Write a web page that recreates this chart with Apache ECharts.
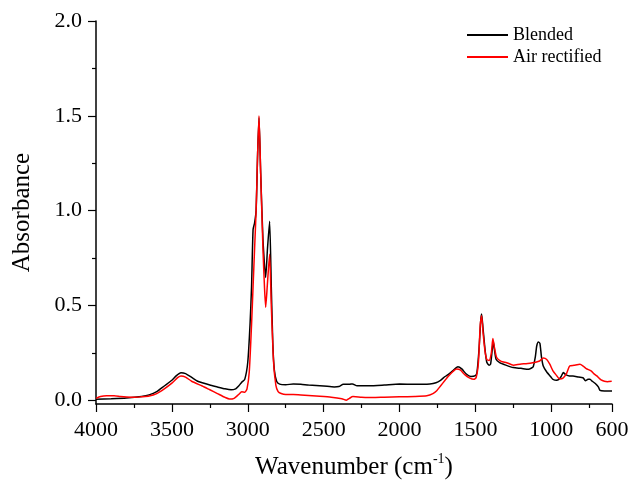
<!DOCTYPE html>
<html>
<head>
<meta charset="utf-8">
<script src="https://cdn.jsdelivr.net/npm/echarts@6/dist/echarts.min.js"></script>
<style>html,body{margin:0;padding:0;background:#fff}#c{width:631px;height:486px}</style>
</head>
<body>
<div id="c"></div>
<script>
var seriesNames = ['Blended', 'Air rectified'];
var xMajorTicks = [4000, 3500, 3000, 2500, 2000, 1500, 1000, 600];
var xMinorTicks = [3750, 3250, 2750, 2250, 1750, 1250, 750];
var yMajorTicks = [0, 0.5, 1.0, 1.5, 2.0];
var yMinorTicks = [0.25, 0.75, 1.25, 1.75];

var blendedX = [4000,3900,3800,3700,3650,3600,3550,3500,3470,3440,3410,3370,3330,3300,3250,3200,3150,3110,3080,3060,3040,3020,3000,2985,2975,2965,2955,2945,2935,2926,2915,2900,2882,2870,2856,2845,2835,2825,2810,2790,2750,2700,2650,2600,2500,2430,2400,2370,2330,2310,2280,2200,2100,2000,1900,1800,1760,1730,1700,1680,1650,1615,1590,1560,1530,1500,1490,1476,1465,1459,1450,1437,1425,1410,1400,1390,1382,1375,1364,1340,1300,1250,1200,1150,1130,1119,1105,1096,1085,1075,1065,1053,1031,1000,989,965,950,935,921,905,880,857,820,800,790,775,758,745,730,710,690,679,650,600];
var blendedY = [0.005,0.008,0.012,0.02,0.028,0.045,0.075,0.105,0.13,0.145,0.14,0.12,0.1,0.092,0.08,0.07,0.06,0.055,0.06,0.075,0.095,0.11,0.2,0.4,0.6,0.9,0.935,1.0,1.3,1.49,1.2,0.85,0.647,0.8,0.944,0.6,0.3,0.16,0.1,0.085,0.082,0.085,0.084,0.08,0.075,0.07,0.072,0.084,0.084,0.086,0.076,0.076,0.08,0.085,0.084,0.086,0.092,0.105,0.125,0.135,0.155,0.177,0.165,0.138,0.125,0.13,0.145,0.27,0.42,0.455,0.38,0.27,0.2,0.185,0.19,0.26,0.31,0.27,0.216,0.198,0.185,0.172,0.168,0.163,0.17,0.177,0.23,0.286,0.307,0.3,0.23,0.18,0.15,0.12,0.11,0.105,0.11,0.125,0.146,0.135,0.128,0.128,0.122,0.12,0.118,0.103,0.11,0.11,0.1,0.088,0.07,0.052,0.049,0.049];

var airX = [4000,3970,3930,3880,3840,3800,3750,3700,3650,3600,3550,3500,3460,3440,3410,3370,3300,3250,3200,3150,3120,3090,3060,3040,3020,3005,2990,2975,2965,2955,2945,2935,2926,2915,2900,2890,2882,2870,2856,2845,2830,2815,2800,2780,2750,2700,2650,2550,2450,2380,2350,2330,2307,2250,2177,2100,2000,1900,1820,1780,1755,1730,1700,1680,1650,1624,1600,1570,1540,1510,1495,1480,1468,1459,1450,1437,1425,1410,1395,1385,1375,1360,1330,1294,1250,1206,1140,1077,1053,1030,1010,989,970,945,925,900,879,850,811,790,770,738,720,700,672,650,630,602];
var airY = [0.01,0.02,0.024,0.024,0.02,0.017,0.015,0.018,0.022,0.035,0.06,0.09,0.12,0.128,0.122,0.1,0.075,0.055,0.035,0.015,0.006,0.01,0.03,0.044,0.042,0.06,0.15,0.4,0.6,0.8,1.0,1.3,1.5,1.2,0.8,0.6,0.49,0.62,0.77,0.5,0.2,0.08,0.045,0.035,0.03,0.03,0.028,0.022,0.016,0.008,0.0,0.01,0.019,0.016,0.014,0.016,0.018,0.02,0.024,0.035,0.05,0.075,0.105,0.125,0.15,0.165,0.16,0.135,0.118,0.11,0.12,0.2,0.4,0.445,0.36,0.26,0.215,0.21,0.25,0.325,0.28,0.225,0.205,0.198,0.185,0.19,0.195,0.207,0.222,0.215,0.19,0.155,0.135,0.112,0.115,0.14,0.18,0.184,0.19,0.18,0.167,0.155,0.14,0.128,0.107,0.1,0.098,0.1];

function pairs(xs, ys) { return xs.map(function (x, i) { return [x, ys[i]]; }); }

var font = 'Liberation Serif';
var chart = echarts.init(document.getElementById('c'), null, {renderer: 'canvas'});
var commonX = {
  type: 'value', min: 600, max: 4000, inverse: true, position: 'bottom',
  splitLine: {show: false}
};
var commonY = {
  type: 'value', min: -0.02, max: 2.0, position: 'left',
  splitLine: {show: false}
};
chart.setOption({
  animation: false,
  backgroundColor: '#fff',
  textStyle: {fontFamily: font},
  grid: {left: 96, right: 19, top: 21, bottom: 82, containLabel: false, outerBoundsMode: 'none'},
  legend: {
    orient: 'vertical', left: 462, top: 21, itemWidth: 41, itemHeight: 2, itemGap: 4,
    icon: 'rect',
    data: seriesNames.map(function (n) { return {name: n, icon: 'rect'}; }),
    textStyle: {fontFamily: font, fontSize: 18, color: '#000', lineHeight: 18, padding: [0, 0, 0, 0]}
  },
  xAxis: [
    Object.assign({}, commonX, {
      name: '{a|Wavenumber (cm}{s|-1}{a|)}', nameLocation: 'middle', nameGap: 48,
      nameTextStyle: {rich: {
        a: {fontFamily: font, fontSize: 25, color: '#000', verticalAlign: 'bottom', lineHeight: 28},
        s: {fontFamily: font, fontSize: 14, color: '#000', verticalAlign: 'top', lineHeight: 28, padding: [0, 0, 12, 0]}
      }},
      axisLine: {show: true, onZero: false, lineStyle: {color: '#000', width: 1.5}},
      axisTick: {show: true, inside: false, length: 8, customValues: xMajorTicks, lineStyle: {color: '#000', width: 1.2}},
      axisLabel: {show: true, customValues: xMajorTicks, margin: 15, fontFamily: font, fontSize: 22, color: '#000',
        formatter: function (v) { return String(Math.round(v)); }}
    }),
    Object.assign({}, commonX, {
      axisLine: {show: false, onZero: false},
      axisTick: {show: true, inside: false, length: 4, customValues: xMinorTicks, lineStyle: {color: '#000', width: 1.2}},
      axisLabel: {show: false}
    })
  ],
  yAxis: [
    Object.assign({}, commonY, {
      name: 'Absorbance', nameLocation: 'middle', nameGap: 61, nameRotate: 90,
      nameTextStyle: {fontFamily: font, fontSize: 25, color: '#000'},
      axisLine: {show: true, onZero: false, lineStyle: {color: '#000', width: 1.5}},
      axisTick: {show: true, inside: false, length: 8, customValues: yMajorTicks, lineStyle: {color: '#000', width: 1.2}},
      axisLabel: {show: true, customValues: yMajorTicks, margin: 14, fontFamily: font, fontSize: 22, color: '#000',
        formatter: function (v) { return v.toFixed(1); }}
    }),
    Object.assign({}, commonY, {
      axisLine: {show: false, onZero: false},
      axisTick: {show: true, inside: false, length: 4, customValues: yMinorTicks, lineStyle: {color: '#000', width: 1.2}},
      axisLabel: {show: false}
    })
  ],
  series: [
    {name: seriesNames[0], type: 'line', xAxisIndex: 0, yAxisIndex: 0, symbol: 'none', smooth: 0.2,
     lineStyle: {color: '#000', width: 1.5}, itemStyle: {color: '#000'}, data: pairs(blendedX, blendedY), z: 2},
    {name: seriesNames[1], type: 'line', xAxisIndex: 0, yAxisIndex: 0, symbol: 'none', smooth: 0.2,
     lineStyle: {color: '#ff0000', width: 1.5}, itemStyle: {color: '#ff0000'}, data: pairs(airX, airY), z: 3}
  ]
});
</script>
</body>
</html>
